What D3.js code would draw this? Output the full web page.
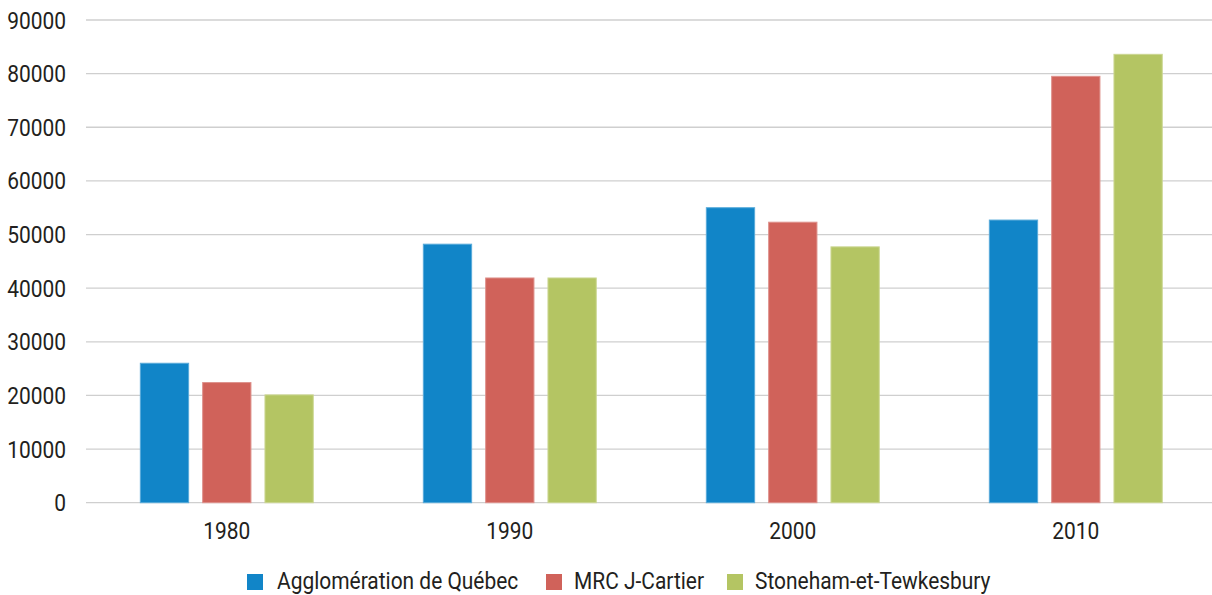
<!DOCTYPE html>
<html>
<head>
<meta charset="utf-8">
<script src="https://cdnjs.cloudflare.com/ajax/libs/d3/7.8.5/d3.min.js"></script>
<style>
    html, body { margin: 0; padding: 0; background: #fff; }
    svg text { font-family: "Roboto", sans-serif; fill: #231f20; }
</style>
</head>
<body>
<div id="chart"></div>
<script>
(function() {
    'use strict';

    // data
    var years = ['1980', '1990', '2000', '2010'];
    var seriesNames = ['Agglomération de Québec', 'MRC J-Cartier', 'Stoneham-et-Tewkesbury'];
    var seriesColors = ['#1185c8', '#d0625a', '#b4c563'];
    var agglomeration = [26000, 48200, 55000, 52700];
    var mrcJCartier = [22400, 41900, 52300, 79500];
    var stoneham = [20100, 41900, 47700, 83600];
    var yTicks = [0, 10000, 20000, 30000, 40000, 50000, 60000, 70000, 80000, 90000];

    var width = 1212, height = 595;
    var seriesValues = [agglomeration, mrcJCartier, stoneham];

    var svg = d3.select('#chart').append('svg')
        .attr('width', width)
        .attr('height', height);

    var y = d3.scaleLinear()
        .domain([0, 90000])
        .range([502.7, 20]);

    var x0 = d3.scaleBand()
        .domain(years)
        .range([85.3, 1217.3])
        .paddingInner(0.389)
        .paddingOuter(0.1945);

    var x1 = d3.scaleBand()
        .domain(d3.range(seriesNames.length))
        .range([0, x0.bandwidth()])
        .paddingInner(0.225)
        .paddingOuter(0);

    // condensed look: squeeze each label a bit horizontally
    function condense(sel) {
        sel.each(function() {
            var len = this.getComputedTextLength();
            d3.select(this)
                .attr('textLength', len * 0.91)
                .attr('lengthAdjust', 'spacingAndGlyphs');
        });
    }

    // grid lines
    svg.append('g')
        .selectAll('line')
        .data(yTicks)
        .enter()
        .append('line')
        .attr('x1', 86)
        .attr('x2', width)
        .attr('y1', function(d) { return y(d); })
        .attr('y2', function(d) { return y(d); })
        .attr('stroke', '#cfcfcf')
        .attr('stroke-width', 1.3);

    // y axis labels
    var yAxis = d3.axisLeft(y).tickValues(yTicks).tickSize(0).tickPadding(0).tickFormat(d3.format('d'));
    svg.append('g')
        .attr('transform', 'translate(66,0)')
        .call(yAxis)
        .call(function(g) { g.select('.domain').remove(); })
        .selectAll('text')
        .attr('font-family', null)
        .style('font-size', '23px')
        .attr('dy', '0.35em')
        .call(condense);

    // bars
    var groups = svg.append('g')
        .selectAll('g')
        .data(years)
        .enter()
        .append('g')
        .attr('transform', function(d) { return 'translate(' + x0(d) + ',0)'; });

    groups.selectAll('rect')
        .data(function(d, i) {
            return seriesValues.map(function(vals, s) { return {s: s, v: vals[i]}; });
        })
        .enter()
        .append('rect')
        .attr('x', function(d) { return x1(d.s); })
        .attr('y', function(d) { return y(d.v); })
        .attr('width', x1.bandwidth())
        .attr('height', function(d) { return y(0) - y(d.v); })
        .attr('fill', function(d) { return seriesColors[d.s]; })
        .attr('stroke', function(d) { return d3.interpolateRgb(seriesColors[d.s], '#ffffff')(0.3); })
        .attr('stroke-width', 1);

    // x axis labels
    var xAxis = d3.axisBottom(x0).tickSize(0).tickPadding(0);
    svg.append('g')
        .attr('transform', 'translate(0,' + y(0) + ')')
        .call(xAxis)
        .call(function(g) { g.select('.domain').remove(); })
        .selectAll('text')
        .style('font-size', '23px')
        .attr('dy', '0')
        .attr('y', 36)
        .call(condense);

    // legend
    var legendX = [247, 546, 727];
    var legend = svg.append('g')
        .selectAll('g')
        .data(seriesNames)
        .enter()
        .append('g')
        .attr('transform', function(d, i) { return 'translate(' + legendX[i] + ',574)'; });

    legend.append('rect')
        .attr('width', 16)
        .attr('height', 16)
        .attr('fill', function(d, i) { return seriesColors[i]; });

    legend.append('text')
        .attr('x', function(d, i) { return i === 0 ? 30 : 28; })
        .attr('y', 15)
        .style('font-size', '23px')
        .text(function(d) { return d; })
        .call(condense);
})();
</script>
</body>
</html>
